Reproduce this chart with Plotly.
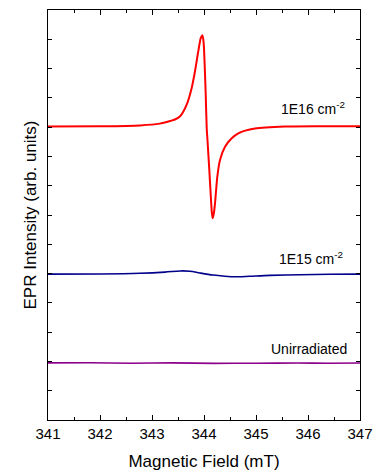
import plotly.graph_objects as go

# Magnetic field (mT) and EPR intensity (arb. units)
field_16 = [341.00, 342.00, 342.77, 343.15, 343.35, 343.44, 343.54, 343.667, 343.763, 343.827,
            343.890, 343.937, 343.967, 343.985, 344.000, 344.033, 344.052, 344.067, 344.102, 344.135,
            344.150, 344.167, 344.187, 344.212, 344.256, 344.308, 344.404, 344.533, 344.660, 344.98, 345.56,
            346.23, 347.00]
epr_16 = [10.02, 10.03, 10.06, 10.12, 10.21, 10.26, 10.37, 10.77, 11.34, 11.91,
          12.59, 13.04, 13.14, 13.01, 12.70, 11.11, 9.97, 9.56, 8.54, 7.51,
          7.10, 6.89, 7.03, 7.40, 8.31, 8.88, 9.33, 9.62, 9.79, 9.95, 10.02,
          10.03, 10.03]

field_15 = [341.00, 342.00, 342.77, 343.25, 343.54, 343.73, 343.92, 344.17, 344.40, 344.60,
            344.88, 345.27, 345.85, 346.42, 347.00]
epr_15 = [4.98, 4.985, 5.01, 5.05, 5.09, 5.08, 5.02, 4.95, 4.91, 4.89,
          4.91, 4.94, 4.96, 4.975, 4.98]

field_un = [341.0, 341.8, 342.6, 343.4, 344.2, 345.0, 345.8, 346.4, 347.0]
epr_un = [1.95, 1.955, 1.94, 1.95, 1.935, 1.94, 1.945, 1.94, 1.945]

labels = ["1E16 cm<sup>-2</sup>", "1E15 cm<sup>-2</sup>", "Unirradiated"]
label_x = [346.75, 346.71, 346.79]
label_y = [10.65, 5.53, 2.42]

font_family = "Arial, Liberation Sans, sans-serif"

fig = go.Figure()
fig.add_trace(go.Scatter(x=field_un, y=epr_un, mode="lines",
                         line=dict(color="#8B008B", width=1.6, shape="spline", smoothing=0.6)))
fig.add_trace(go.Scatter(x=field_15, y=epr_15, mode="lines",
                         line=dict(color="#00008B", width=1.6, shape="spline", smoothing=0.8)))
fig.add_trace(go.Scatter(x=field_16, y=epr_16, mode="lines",
                         line=dict(color="#FF0000", width=2, shape="spline", smoothing=0.6)))

for t, xv, yv in zip(labels, label_x, label_y):
    fig.add_annotation(x=xv, y=yv, text=t, showarrow=False, xanchor="right", yanchor="middle",
                       font=dict(family=font_family, size=14, color="#000000"))

fig.update_layout(
    width=375, height=475,
    margin=dict(l=48, r=15, t=10, b=55, autoexpand=False),
    paper_bgcolor="white", plot_bgcolor="white",
    showlegend=False,
    font=dict(family=font_family, color="#000000"),
)
fig.update_xaxes(
    range=[341, 347], dtick=1, tick0=341, automargin=False,
    ticks="inside", ticklen=5, tickwidth=1, tickcolor="#000",
    minor=dict(dtick=0.5, ticks="inside", ticklen=3, tickcolor="#000"),
    showline=True, linecolor="#000", linewidth=1, mirror="ticks",
    showgrid=False, zeroline=False,
    tickfont=dict(size=15),
    title=dict(text="Magnetic Field (mT)", font=dict(size=17), standoff=14),
)
fig.update_yaxes(
    range=[0, 14], dtick=1, tick0=0, automargin=False,
    ticks="inside", ticklen=4, tickwidth=1, tickcolor="#000",
    showticklabels=False,
    showline=True, linecolor="#000", linewidth=1, mirror="ticks",
    showgrid=False, zeroline=False,
    title=dict(text="EPR Intensity (arb. units)", font=dict(size=17), standoff=6),
)

fig.write_html("out.html")
